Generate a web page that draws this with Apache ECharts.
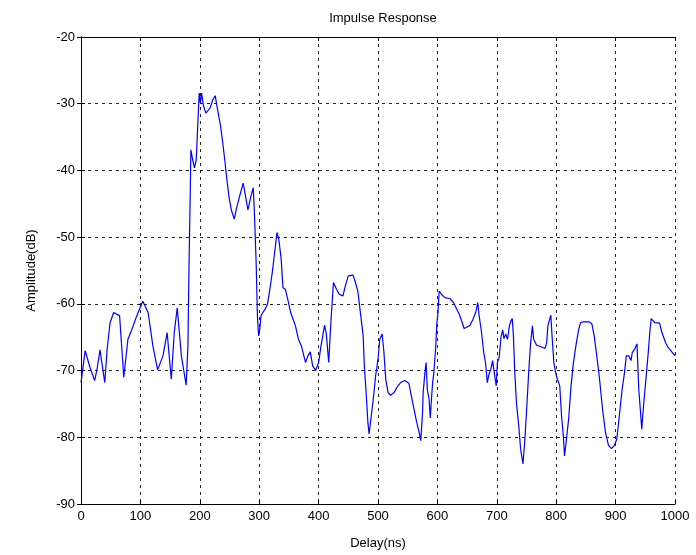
<!DOCTYPE html>
<html>
<head>
<meta charset="utf-8">
<script src="https://cdn.jsdelivr.net/npm/echarts@6/dist/echarts.min.js"></script>
<style>
  html, body { margin: 0; padding: 0; background: #fff; }
  #chart { width: 696px; height: 555px; }
</style>
</head>
<body>
<div id="chart"></div>
<script>
// delay (ns) and amplitude (dB)
const delays = [
  0, 7, 15, 23, 27, 32, 40, 44, 49, 55, 65, 72, 79, 85, 93, 104, 113, 121, 129, 138,
  145, 152, 157, 162, 169, 177, 180, 182, 184, 185, 188, 191, 194, 196, 199, 201, 203, 206, 210, 217,
  222, 226, 228, 232, 235, 238, 242, 245, 249, 253, 258, 262, 267, 273, 277, 281, 286, 290, 292, 295,
  297, 299, 301, 303, 306, 310, 314, 318, 322, 326, 330, 333, 337, 340, 344, 348, 353, 357, 361, 366,
  371, 378, 382, 386, 390, 395, 400, 404, 407, 410, 413, 417, 421, 425, 430, 435, 441, 445, 450, 458,
  462, 466, 469, 475, 477, 480, 483, 485, 488, 492, 496, 500, 503, 507, 510, 513, 517, 521, 527, 532,
  538, 545, 552, 555, 560, 565, 569, 572, 575, 576, 579, 581, 583, 586, 588, 590, 592, 594, 597, 599,
  601, 603, 607, 613, 621, 627, 632, 637, 641, 645, 649, 655, 660, 665, 668, 670, 674, 678, 681, 684,
  687, 690, 693, 696, 699, 701, 704, 707, 710, 712, 715, 718, 721, 724, 726, 728, 730, 733, 737, 740,
  744, 747, 750, 754, 757, 760, 762, 767, 773, 781, 784, 786, 789, 791, 793, 796, 799, 802, 806, 809,
  812, 814, 817, 821, 825, 829, 834, 838, 841, 846, 855, 860, 864, 869, 873, 878, 883, 888, 893, 898,
  902, 906, 911, 915, 918, 922, 926, 928, 932, 936, 939, 942, 944, 947, 950, 953, 955, 958, 960, 966,
  974, 978, 984, 988, 993, 1000
];
const amplitude = [
  -71.8, -67.0, -69.5, -71.5, -69.8, -66.9, -71.8, -66.8, -62.8, -61.3, -61.8, -71.0, -65.3, -64.0, -62.0, -59.6, -61.3, -66.3, -69.9, -67.8,
  -64.3, -71.3, -64.3, -60.6, -67.8, -72.2, -66.3, -53.3, -42.9, -36.9, -38.4, -39.6, -38.4, -34.4, -28.4, -29.9, -28.4, -30.2, -31.4, -30.7,
  -29.4, -28.8, -29.9, -31.9, -33.4, -35.4, -38.4, -40.9, -43.9, -45.9, -47.3, -45.6, -43.9, -41.9, -43.9, -45.9, -43.9, -42.6, -46.4, -54.3,
  -61.8, -64.8, -63.8, -61.8, -61.3, -60.8, -60.0, -57.8, -55.3, -52.3, -49.3, -50.3, -53.3, -57.6, -57.8, -59.3, -61.3, -62.3, -63.3, -65.3,
  -66.3, -68.8, -67.8, -67.2, -69.3, -70.0, -68.8, -66.3, -64.8, -63.2, -64.5, -68.8, -62.3, -56.8, -57.8, -58.6, -58.8, -57.3, -55.8, -55.7,
  -56.8, -58.1, -60.3, -64.8, -69.3, -73.3, -77.8, -79.5, -77.3, -74.3, -70.8, -68.3, -65.3, -64.5, -67.3, -71.3, -73.3, -73.7, -73.3, -72.5,
  -71.8, -71.5, -71.9, -73.3, -75.5, -77.7, -79.2, -80.5, -76.3, -73.3, -70.3, -68.8, -72.8, -74.3, -77.1, -74.3, -71.8, -70.3, -66.8, -63.0,
  -61.3, -58.1, -58.6, -59.1, -59.2, -59.8, -60.7, -61.6, -62.6, -63.7, -63.5, -63.2, -62.3, -61.1, -59.8, -61.6, -64.1, -67.3, -68.8, -71.8,
  -70.5, -69.8, -68.5, -70.5, -72.3, -68.8, -68.0, -65.0, -63.9, -65.2, -64.5, -65.3, -63.4, -62.5, -62.2, -64.8, -69.8, -74.8, -78.3, -81.7,
  -84.0, -80.7, -76.2, -69.8, -65.8, -63.3, -65.3, -66.2, -66.4, -66.7, -65.8, -63.3, -62.3, -61.7, -64.8, -68.8, -70.3, -71.3, -72.3, -76.8,
  -79.8, -82.8, -80.5, -77.2, -72.3, -68.8, -65.8, -63.8, -62.8, -62.7, -62.7, -63.0, -64.8, -68.3, -71.3, -75.8, -79.3, -81.2, -81.7, -81.2,
  -80.3, -77.0, -72.8, -70.3, -67.8, -67.8, -68.5, -67.3, -66.8, -66.0, -72.8, -76.3, -78.8, -75.3, -72.3, -69.3, -67.3, -63.8, -62.2, -62.8,
  -62.9, -64.3, -65.8, -66.5, -67.0, -67.8
];

const chart = echarts.init(document.getElementById('chart'));
const font = 'Liberation Sans, Arial, sans-serif';
const gridLine = { show: true, lineStyle: { color: '#222', type: [3, 4], width: 1 } };

chart.setOption({
  animation: false,
  backgroundColor: '#fff',
  title: {
    text: 'Impulse Response',
    left: 378,
    textAlign: 'center',
    top: 7,
    textStyle: { fontFamily: font, fontSize: 13, fontWeight: 'normal', color: '#000' }
  },
  grid: { left: 81, top: 37, width: 594, height: 468 },
  xAxis: [
    {
      type: 'value',
      min: 0,
      max: 1000,
      interval: 100,
      name: 'Delay(ns)',
      nameLocation: 'middle',
      nameGap: 33,
      nameTextStyle: { fontFamily: font, fontSize: 13, color: '#000' },
      axisLine: { show: true, lineStyle: { color: '#000', width: 1 } },
      axisTick: { show: true, inside: true, length: 4, lineStyle: { color: '#000' } },
      axisLabel: { fontFamily: font, fontSize: 13, color: '#000', margin: 6, formatter: v => String(v) },
      splitLine: gridLine
    },
    {
      type: 'value',
      position: 'top',
      min: 0,
      max: 1000,
      interval: 100,
      axisLine: { show: true, lineStyle: { color: '#000', width: 1 } },
      axisTick: { show: true, inside: true, length: 4, lineStyle: { color: '#000' } },
      axisLabel: { show: false },
      splitLine: { show: false }
    }
  ],
  yAxis: [
    {
      type: 'value',
      min: -90,
      max: -20,
      interval: 10,
      name: 'Amplitude(dB)',
      nameLocation: 'middle',
      nameGap: 43,
      nameTextStyle: { fontFamily: font, fontSize: 13, color: '#000' },
      axisLine: { show: true, lineStyle: { color: '#000', width: 1 } },
      axisTick: { show: true, inside: true, length: 4, lineStyle: { color: '#000' } },
      axisLabel: { fontFamily: font, fontSize: 13, color: '#000', margin: 6 },
      splitLine: gridLine
    },
    {
      type: 'value',
      position: 'right',
      min: -90,
      max: -20,
      interval: 10,
      axisLine: { show: true, lineStyle: { color: '#000', width: 1 } },
      axisTick: { show: true, inside: true, length: 4, lineStyle: { color: '#000' } },
      axisLabel: { show: false },
      splitLine: { show: false }
    }
  ],
  series: [
    {
      type: 'line',
      data: delays.map((d, i) => [d, amplitude[i]]),
      showSymbol: false,
      lineStyle: { color: '#0000ff', width: 1.2 },
      itemStyle: { color: '#0000ff' }
    }
  ]
});
</script>
</body>
</html>
